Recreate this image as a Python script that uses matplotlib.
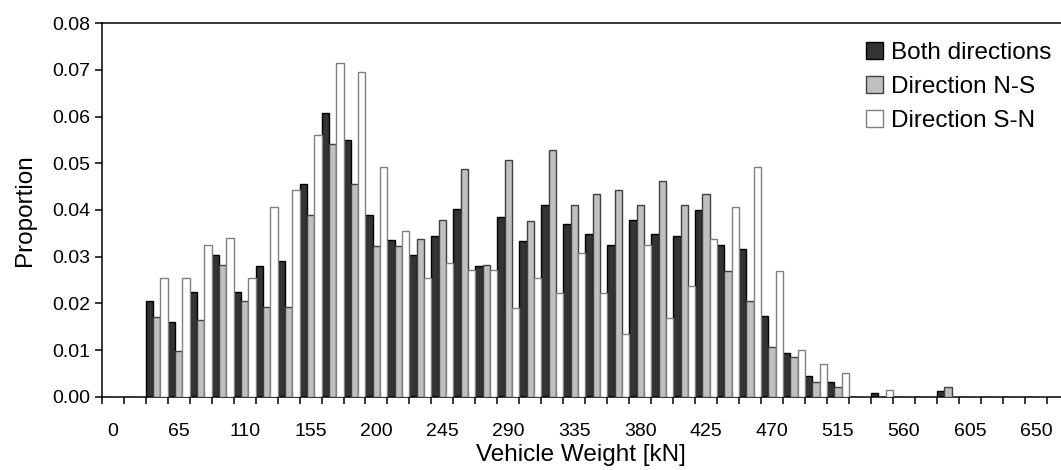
import matplotlib.pyplot as plt
import numpy as np

plt.rcParams['font.family'] = ['Liberation Sans', 'DejaVu Sans']

# weight classes [kN]; first class is labelled 0 on the original axis
weights = [0] + list(range(35, 651, 15))

both = [0, 0, 0.0206, 0.0159, 0.0225, 0.0303, 0.0225, 0.0279, 0.0291, 0.0456,
        0.0607, 0.0550, 0.0390, 0.0336, 0.0304, 0.0345, 0.0403, 0.0279, 0.0386, 0.0333,
        0.0411, 0.0369, 0.0349, 0.0325, 0.0378, 0.0349, 0.0345, 0.0399, 0.0325, 0.0316,
        0.0172, 0.0094, 0.0045, 0.0032, 0, 0.0008, 0, 0, 0.0013, 0,
        0, 0, 0]
north_south = [0, 0, 0.0171, 0.0097, 0.0164, 0.0282, 0.0205, 0.0193, 0.0193, 0.0389,
               0.0541, 0.0455, 0.0323, 0.0323, 0.0337, 0.0378, 0.0488, 0.0283, 0.0508, 0.0377,
               0.0529, 0.0410, 0.0435, 0.0443, 0.0410, 0.0463, 0.0410, 0.0434, 0.0270, 0.0204,
               0.0107, 0.0086, 0.0032, 0.0020, 0, 0, 0, 0, 0.0020, 0,
               0, 0, 0]
south_north = [0, 0, 0.0254, 0.0254, 0.0324, 0.0340, 0.0254, 0.0406, 0.0443, 0.0560,
               0.0714, 0.0696, 0.0493, 0.0356, 0.0255, 0.0287, 0.0271, 0.0271, 0.0189, 0.0255,
               0.0222, 0.0308, 0.0222, 0.0135, 0.0325, 0.0168, 0.0238, 0.0338, 0.0406, 0.0491,
               0.0270, 0.0101, 0.0069, 0.0050, 0, 0.0015, 0, 0, 0, 0,
               0, 0, 0]

series = [("Both directions", both, "#333333", "black"),
          ("Direction N-S", north_south, "#c0c0c0", "#404040"),
          ("Direction S-N", south_north, "white", "#808080")]

fig = plt.figure(figsize=(10.61, 4.70), dpi=100)
ax = fig.add_axes([0.0959, 0.156, 0.904, 0.7945])

x = np.arange(len(weights))
w = 1 / 3
for k, (name, vals, fc, ec) in enumerate(series):
    ax.bar(x + (k - 1) * w, vals, width=w, color=fc, edgecolor=ec,
           linewidth=1.0, label=name, zorder=2 + k)

ax.set_xlim(-0.5, 43.14)
ax.set_ylim(0, 0.08)
ax.set_yticks(np.arange(0, 0.081, 0.01))
ax.set_yticklabels([f"{v:.2f}" for v in np.arange(0, 0.081, 0.01)])

ax.set_xticks(x[::3])
ax.set_xticklabels([str(v) for v in weights[::3]])
ax.set_xticks(np.arange(-0.5, 43, 1), minor=True)
ax.tick_params(axis='x', which='major', length=0, pad=19, labelsize=14)
ax.tick_params(axis='x', which='minor', length=5, width=1.1, direction='out')
ax.tick_params(axis='y', length=5, width=1.1, direction='out', pad=3, labelsize=14)

for s in ['left', 'bottom', 'top']:
    ax.spines[s].set_linewidth(1.1)
ax.spines['right'].set_visible(False)

ax.set_xlabel("Vehicle Weight [kN]", fontsize=17.5, labelpad=3)
ax.set_ylabel("Proportion", fontsize=17.5, labelpad=12)

ax.legend(loc='upper right', bbox_to_anchor=(1.005, 0.99), frameon=False,
          fontsize=17.5, handlelength=0.7, handleheight=0.7, handletextpad=0.3,
          labelspacing=0.5, borderaxespad=0.2)

fig.savefig("out.png", dpi=100)
